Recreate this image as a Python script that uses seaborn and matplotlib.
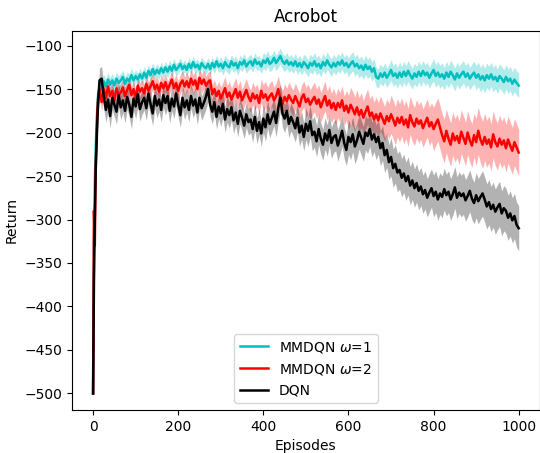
import numpy as np
import pandas as pd
import matplotlib
matplotlib.use("Agg")
import matplotlib.pyplot as plt
import seaborn as sns

# episodes: dense at the very start, then every 5 episodes
early_eps = [0, 2, 4, 6, 8, 10, 12, 15]
episodes = early_eps + list(range(20, 1001, 5))

mmdqn1 = [-500, -330, -260, -220, -195, -170, -155, -148,
          -152, -141, -147, -139, -145, -140, -146, -138, -143, -140,
          -136, -144, -138, -141, -134, -140, -135, -139, -133, -138,
          -131, -137, -129, -134, -127, -133, -128, -132, -126, -131,
          -125, -130, -124, -129, -122, -128, -125, -121, -127, -123,
          -128, -121, -126, -119, -125, -122, -127, -120, -124, -126,
          -121, -127, -120, -125, -118, -124, -121, -126, -119, -123,
          -125, -118, -123, -120, -126, -119, -122, -117, -124, -120,
          -118, -123, -116, -121, -119, -124, -117, -120, -115, -121,
          -119, -114, -120, -116, -112, -118, -121, -117, -122, -119,
          -123, -118, -124, -120, -125, -119, -122, -126, -120, -123,
          -118, -124, -121, -126, -119, -123, -117, -122, -125, -120,
          -124, -119, -122, -117, -123, -120, -125, -121, -118, -124,
          -121, -126, -123, -128, -122, -127, -124, -130, -126, -136,
          -138, -132, -136, -131, -137, -133, -128, -135, -132, -137,
          -131, -136, -130, -135, -129, -134, -138, -132, -136, -130,
          -135, -129, -134, -131, -137, -132, -128, -135, -131, -136,
          -133, -138, -131, -136, -130, -134, -139, -132, -137, -133,
          -130, -136, -132, -138, -134, -131, -137, -133, -139, -135,
          -140, -134, -138, -133, -139, -136, -141, -135, -138, -142,
          -136, -141, -138, -144, -139, -143, -146]

mmdqn2 = [-500, -290, -330, -240, -210, -175, -160, -150,
          -165, -150, -160, -147, -158, -152, -163, -149, -157, -154,
          -148, -158, -151, -145, -157, -150, -160, -146, -153, -149,
          -155, -144, -152, -147, -141, -150, -145, -153, -143, -149,
          -142, -151, -145, -139, -149, -143, -152, -144, -140, -147,
          -141, -148, -138, -145, -140, -150, -137, -144, -139, -146,
          -142, -140, -156, -150, -158, -152, -161, -155, -149, -159,
          -154, -162, -156, -150, -160, -153, -163, -157, -151, -159,
          -164, -155, -161, -157, -166, -152, -160, -156, -163, -158,
          -155, -163, -158, -150, -161, -167, -159, -164, -157, -162,
          -166, -158, -164, -170, -160, -156, -165, -161, -168, -163,
          -159, -167, -162, -171, -164, -158, -169, -163, -172, -166,
          -174, -166, -171, -163, -175, -169, -177, -168, -173, -179,
          -171, -180, -174, -183, -176, -170, -181, -177, -185, -179,
          -186, -178, -184, -190, -181, -187, -179, -185, -192, -183,
          -189, -182, -191, -185, -194, -180, -188, -193, -184, -190,
          -186, -195, -189, -183, -193, -188, -196, -190, -185, -194,
          -203, -210, -198, -207, -214, -201, -209, -204, -212, -199,
          -206, -213, -200, -209, -215, -203, -211, -198, -208, -214,
          -205, -213, -208, -217, -202, -211, -216, -207, -214, -209,
          -218, -208, -215, -221, -211, -217, -223]

dqn = [-500, -370, -300, -245, -215, -185, -165, -140,
       -138, -158, -174, -162, -181, -160, -168, -176, -157, -171,
       -163, -175, -159, -168, -182, -161, -170, -156, -173, -165,
       -160, -172, -155, -167, -178, -158, -169, -162, -174, -157,
       -166, -158, -175, -161, -170, -155, -168, -180, -160, -171,
       -163, -174, -158, -169, -162, -177, -160, -172, -166, -159,
       -150, -168, -176, -165, -182, -170, -178, -167, -185, -173,
       -180, -171, -186, -177, -190, -175, -183, -192, -179, -188,
       -185, -196, -182, -198, -188, -201, -184, -194, -179, -190,
       -183, -176, -189, -172, -160, -178, -184, -175, -190, -182,
       -188, -195, -183, -200, -192, -205, -190, -198, -187, -203,
       -199, -210, -196, -207, -214, -201, -209, -197, -212, -205,
       -203, -215, -207, -198, -212, -220, -205, -211, -202, -216,
       -209, -199, -206, -213, -200, -204, -196, -208, -202, -211,
       -205, -218, -212, -226, -220, -234, -228, -241, -236, -246,
       -243, -252, -247, -256, -250, -261, -255, -264, -258, -267,
       -262, -271, -266, -275, -269, -264, -273, -268, -277, -270,
       -274, -265, -272, -268, -277, -271, -263, -275, -269, -273,
       -270, -278, -273, -267, -276, -281, -272, -279, -274, -270,
       -277, -285, -280, -288, -283, -291, -286, -282, -293, -287,
       -290, -298, -293, -301, -296, -306, -310]

# half width of the shaded band, one value per 100 episodes
band1 = [8, 7, 7, 8, 9, 10, 11, 12, 13, 14]
band2 = [10, 10, 11, 13, 15, 17, 20, 22, 25, 27]
band_dqn = [14, 14, 14, 15, 16, 18, 20, 22, 24, 26]

labels = [r'MMDQN $\omega$=1', r'MMDQN $\omega$=2', 'DQN']
colors = ['c', 'r', 'k']

ep = np.array(episodes)
seg = np.clip(ep // 100, 0, 9)

fig = plt.figure(figsize=(5.4, 4.53), dpi=100)
ax = fig.add_axes([0.133, 0.095, 0.867, 0.837])

for vals, band, lab, col in zip([mmdqn1, mmdqn2, dqn], [band1, band2, band_dqn], labels, colors):
    df = pd.DataFrame({'Episodes': ep, 'Return': vals})
    sns.lineplot(data=df, x='Episodes', y='Return', color=col, label=lab, lw=1.8, ax=ax)
    hw = np.array(band)[seg]
    ax.fill_between(ep, df['Return'] - hw, df['Return'] + hw, color=col, alpha=0.3, lw=0)

ax.set_xlim(-50, 1050)
ax.set_ylim(-519, -83)
ax.set_xticks([0, 200, 400, 600, 800, 1000])
ax.set_yticks(range(-500, -99, 50))
ax.set_title('Acrobot', fontsize=12)
ax.set_xlabel('Episodes')
ax.set_ylabel('Return')
ax.legend(loc='lower center')

fig.savefig('out.png', dpi=100)
